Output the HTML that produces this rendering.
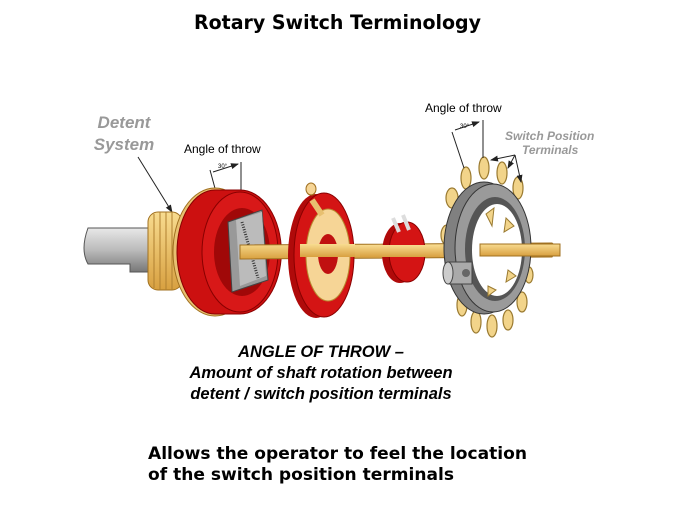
<!DOCTYPE html>
<html><head><meta charset="utf-8"><style>html,body{margin:0;padding:0;background:#fff}svg{display:block}</style></head>
<body>
<svg width="674" height="506" viewBox="0 0 674 506" xmlns="http://www.w3.org/2000/svg">
<defs>
<marker id="ah" markerWidth="8" markerHeight="8" refX="7" refY="4" orient="auto" markerUnits="userSpaceOnUse"><path d="M0,1 L8,4 L0,7 z" fill="#222"/></marker>
<linearGradient id="gs" x1="0" y1="0" x2="0" y2="1"><stop offset="0" stop-color="#e8e8e8"/><stop offset="0.5" stop-color="#bbb"/><stop offset="1" stop-color="#777"/></linearGradient>
<linearGradient id="gold" x1="0" y1="0" x2="0" y2="1"><stop offset="0" stop-color="#f8dc90"/><stop offset="1" stop-color="#d8a040"/></linearGradient>
</defs>
<text x="194" y="29" font-family="DejaVu Sans, sans-serif" font-weight="bold" font-size="19.5" textLength="287" lengthAdjust="spacingAndGlyphs" fill="#000">Rotary Switch Terminology</text>

<text x="124" y="128" text-anchor="middle" font-family="Liberation Sans, sans-serif" font-weight="bold" font-style="italic" font-size="17" fill="#999">Detent</text>
<text x="124" y="150" text-anchor="middle" font-family="Liberation Sans, sans-serif" font-weight="bold" font-style="italic" font-size="17" fill="#999">System</text>
<line x1="138" y1="157" x2="172" y2="212" stroke="#222" stroke-width="1" marker-end="url(#ah)"/>
<text x="184" y="153" font-family="Liberation Sans, sans-serif" font-size="12" fill="#000">Angle of throw</text>
<line x1="210" y1="170" x2="216" y2="192" stroke="#222"/><line x1="241" y1="162" x2="241" y2="192" stroke="#222"/>
<line x1="213" y1="172" x2="238" y2="164" stroke="#222" marker-end="url(#ah)"/>
<text x="218" y="168" font-family="Liberation Sans, sans-serif" font-size="6" fill="#000">30°</text>

<path d="M88,228 H160 V272 H130 V264 H88 Q80,250 88,228z" fill="url(#gs)" stroke="#555"/>
<rect x="148" y="212" width="34" height="78" rx="10" fill="url(#gold)" stroke="#a07020"/>
<g stroke="#b08030"><line x1="154" y1="214" x2="154" y2="288"/><line x1="160" y1="212" x2="160" y2="290"/><line x1="166" y1="212" x2="166" y2="290"/><line x1="172" y1="212" x2="172" y2="290"/></g>
<ellipse cx="215" cy="252" rx="42" ry="64" fill="#e8c070" stroke="#a07020"/>
<path d="M215,190 H240 A40,60 0 0 1 240,314 H215 A38,62 0 0 1 215,190z" fill="#cc1010" stroke="#800"/>
<ellipse cx="240" cy="252" rx="38" ry="60" fill="#d81818" stroke="#800"/>
<ellipse cx="242" cy="252" rx="28" ry="44" fill="#a00808"/>
<polygon points="228,222 262,210 268,280 232,292" fill="#999" stroke="#444"/>
<polygon points="236,220 262,212 266,276 240,286" fill="#bbb"/>
<line x1="242" y1="222" x2="258" y2="278" stroke="#333" stroke-width="3" stroke-dasharray="1,1.5"/>
<polygon points="240,245 552,243 558,248 552,257 240,259" fill="url(#gold)" stroke="#a07020"/>
<ellipse cx="316" cy="256" rx="28" ry="62" fill="#b00a0a"/>
<ellipse cx="324" cy="255" rx="30" ry="62" fill="#d41414" stroke="#800"/>
<ellipse cx="328" cy="255" rx="22" ry="46" fill="#f6d596" stroke="#b88a30"/>
<ellipse cx="328" cy="254" rx="10" ry="20" fill="#c01010"/>
<line x1="312" y1="200" x2="322" y2="215" stroke="#e8c070" stroke-width="6"/>
<ellipse cx="311" cy="189" rx="5" ry="6" fill="#f6d596" stroke="#a07020"/>
<rect x="300" y="244" width="55" height="13" fill="url(#gold)"/>
<ellipse cx="400" cy="253" rx="18" ry="30" fill="#b00a0a"/>
<ellipse cx="407" cy="252" rx="18" ry="30" fill="#d41414" stroke="#800"/>
<line x1="393" y1="218" x2="399" y2="232" stroke="#ddd" stroke-width="4"/><line x1="403" y1="215" x2="409" y2="230" stroke="#ddd" stroke-width="4"/>
<rect x="360" y="245" width="80" height="12" fill="url(#gold)"/>
<g fill="#f2d48a" stroke="#9a7a30" stroke-width="1.2">
<ellipse cx="466" cy="178" rx="5" ry="11"/><ellipse cx="484" cy="168" rx="5" ry="11"/><ellipse cx="502" cy="173" rx="5" ry="11"/><ellipse cx="518" cy="188" rx="5" ry="11"/>
<ellipse cx="452" cy="198" rx="6" ry="10"/><ellipse cx="447" cy="235" rx="6" ry="10"/>
<ellipse cx="462" cy="305" rx="5" ry="11"/><ellipse cx="476" cy="322" rx="5" ry="11"/><ellipse cx="492" cy="326" rx="5" ry="11"/><ellipse cx="508" cy="320" rx="5" ry="10"/><ellipse cx="522" cy="302" rx="5" ry="10"/><ellipse cx="529" cy="275" rx="4" ry="8"/>
</g>
<ellipse cx="484" cy="248" rx="40" ry="66" fill="#808080" stroke="#333"/>
<ellipse cx="493" cy="248" rx="38" ry="64" fill="#9a9a9a" stroke="#333"/>
<ellipse cx="495" cy="249" rx="30" ry="52" fill="#555"/>
<ellipse cx="497" cy="250" rx="25" ry="46" fill="#fff"/>
<g fill="#f2d48a" stroke="#9a7a30"><polygon points="486,214 494,208 492,226"/><polygon points="506,218 514,226 504,232"/><polygon points="508,270 516,276 506,282"/><polygon points="488,286 496,290 488,296"/></g>
<rect x="480" y="244" width="80" height="12" fill="url(#gold)" stroke="#a07020"/>
<path d="M448,262 H472 V284 H448 Q440,273 448,262z" fill="#aaa" stroke="#444"/>
<ellipse cx="448" cy="273" rx="5" ry="11" fill="#ccc" stroke="#444"/>
<circle cx="466" cy="273" r="4" fill="#666"/>

<text x="425" y="112" font-family="Liberation Sans, sans-serif" font-size="12" fill="#000">Angle of throw</text>
<line x1="452" y1="132" x2="464" y2="168" stroke="#222"/><line x1="483" y1="120" x2="483" y2="158" stroke="#222"/>
<line x1="455" y1="130" x2="479" y2="122" stroke="#222" marker-end="url(#ah)"/>
<text x="460" y="128" font-family="Liberation Sans, sans-serif" font-size="6" fill="#000">30°</text>
<text x="505" y="140" font-family="Liberation Sans, sans-serif" font-weight="bold" font-style="italic" font-size="12" fill="#999">Switch Position</text>
<text x="522" y="154" font-family="Liberation Sans, sans-serif" font-weight="bold" font-style="italic" font-size="12" fill="#999">Terminals</text>
<g stroke="#222"><line x1="515" y1="155" x2="491" y2="160" marker-end="url(#ah)"/><line x1="515" y1="155" x2="508" y2="168" marker-end="url(#ah)"/><line x1="515" y1="155" x2="521" y2="182" marker-end="url(#ah)"/></g>

<g font-family="Liberation Sans, sans-serif" font-weight="bold" font-style="italic" font-size="16.5" fill="#000" text-anchor="middle">
<text x="321" y="357">ANGLE OF THROW –</text>
<text x="321" y="378">Amount of shaft rotation between</text>
<text x="321" y="399">detent / switch position terminals</text>
</g>
<g font-family="DejaVu Sans, sans-serif" font-weight="bold" font-size="17" fill="#000">
<text x="148" y="459" textLength="379" lengthAdjust="spacingAndGlyphs">Allows the operator to feel the location</text>
<text x="148" y="480" textLength="306" lengthAdjust="spacingAndGlyphs">of the switch position terminals</text>
</g>
</svg>
</body></html>
